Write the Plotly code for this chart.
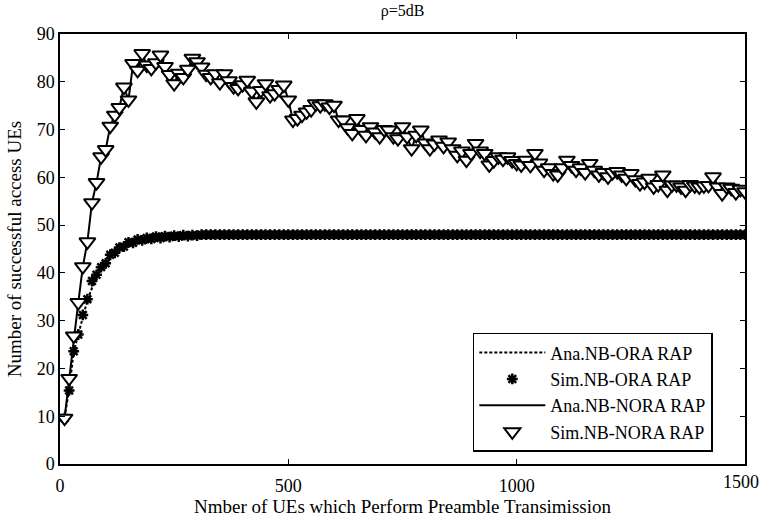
import plotly.graph_objects as go

# x positions: number of UEs performing preamble transmission
ues = list(range(10, 1501, 10))

# Simulated NB-NORA RAP (triangles); analytical line follows the same values
sim_nora = [
    9.6, 17.9, 26.8, 33.8, 41.3, 46.5, 54.7, 58.9, 64.3, 65.8,
    70.7, 73.0, 74.6, 78.9, 76.2, 83.8, 82.4, 85.9, 83.5, 82.8,
    84.0, 85.6, 83.2, 81.5, 79.6, 81.8, 80.9, 82.6, 84.9, 84.2,
    83.1, 81.6, 80.9, 81.7, 79.8, 81.7, 80.2, 79.0, 78.6, 79.4,
    80.3, 78.0, 75.8, 78.2, 79.6, 77.1, 77.5, 78.4, 79.3, 76.2,
    72.0, 72.3, 73.0, 73.7, 74.2, 75.4, 75.0, 75.4, 74.7, 75.1,
    72.0, 72.0, 70.4, 69.2, 72.3, 70.0, 68.8, 70.6, 69.5, 68.5,
    70.0, 69.9, 68.5, 68.1, 70.6, 68.5, 66.0, 68.8, 69.9, 67.2,
    66.0, 67.0, 67.8, 66.5, 67.4, 66.0, 64.6, 65.5, 63.6, 65.0,
    67.1, 65.5, 65.0, 62.6, 63.5, 64.3, 63.8, 64.3, 63.5, 62.9,
    62.6, 63.6, 62.5, 65.0, 63.0, 61.5, 62.0, 60.8, 60.5, 62.0,
    63.6, 62.5, 61.5, 62.0, 61.0, 62.9, 61.5, 60.5, 61.0, 60.1,
    61.0, 61.2, 60.5, 59.8, 60.8, 59.5, 58.7, 59.0, 59.8, 58.0,
    58.5, 60.5, 57.3, 58.4, 58.4, 58.0, 57.3, 58.5, 58.2, 58.0,
    58.2, 58.3, 60.1, 58.0, 56.6, 58.0, 57.7, 56.8, 57.5, 57.0,
]
ana_nora = sim_nora

# Analytical NB-ORA RAP (dotted line)
ana_ora_head = [
    9.8, 15.5, 23.5, 27.3, 31.0, 34.3, 36.8, 39.0, 40.9, 42.3,
    43.5, 44.4, 45.1, 45.7, 46.2, 46.5, 46.8, 47.0, 47.2, 47.3,
    47.4, 47.5, 47.6, 47.6, 47.7, 47.7, 47.8, 47.8, 47.8, 47.9,
]
ana_ora = ana_ora_head + [48.0] * (len(ues) - len(ana_ora_head))

# Simulated NB-ORA RAP (asterisks)
sim_ora_head = [
    9.6, 15.4, 23.6, 27.1, 31.2, 34.5, 38.3, 39.6, 41.2, 42.0,
    43.8, 44.2, 45.3, 45.5, 46.4, 46.3, 47.0, 46.8, 47.3, 47.1,
    47.6, 47.3, 47.7, 47.5, 47.8, 47.6, 47.9, 47.7, 47.9, 47.8,
]
sim_ora = sim_ora_head + [48.0] * (len(ues) - len(sim_ora_head))

# tick labels
x_ticks = [0, 500, 1000, 1500]
x_ticklabels = ["0", "500", "1000", ""]   # last label drawn as annotation (near page edge)
last_x_label = "1500"
y_ticks = list(range(0, 91, 10))

FONT = "Liberation Serif, Times New Roman, serif"

fig = go.Figure()
fig.add_trace(go.Scatter(
    x=ues, y=ana_ora, mode="lines", name="Ana.NB-ORA RAP",
    line=dict(color="black", width=2, dash="3px,2px"),
))
fig.add_trace(go.Scatter(
    x=ues, y=sim_ora, mode="markers", name="Sim.NB-ORA RAP",
    marker=dict(symbol="asterisk-open", size=9, color="black",
                line=dict(color="black", width=2.5)),
))
fig.add_trace(go.Scatter(
    x=ues, y=ana_nora, mode="lines", name="Ana.NB-NORA RAP",
    line=dict(color="black", width=2),
))
fig.add_trace(go.Scatter(
    x=ues, y=sim_nora, mode="markers", name="Sim.NB-NORA RAP",
    marker=dict(symbol="triangle-down", size=14, color="white",
                line=dict(color="black", width=2)),
))

axis_common = dict(
    showgrid=False, zeroline=False, showline=True, linecolor="black",
    linewidth=1.5, mirror="ticks", ticks="inside", ticklen=5, tickwidth=1,
    tickcolor="black", tickfont=dict(family=FONT, size=18, color="black"),
    automargin=False,
)

fig.update_layout(
    width=761, height=518,
    paper_bgcolor="white", plot_bgcolor="white",
    margin=dict(l=60, r=16, t=34, b=54),
    font=dict(family=FONT, color="black"),
    title=dict(text="ρ=5dB", x=0.529, xanchor="center", y=0.99, yanchor="top",
               yref="container", font=dict(family=FONT, size=16, color="black")),
    xaxis=dict(range=[0, 1500], tickvals=x_ticks, ticktext=x_ticklabels,
               ticklabelstandoff=5,
               title=dict(text="Nmber of UEs which Perform Preamble Transimission",
                          font=dict(family=FONT, size=19, color="black"), standoff=0),
               **axis_common),
    yaxis=dict(range=[0, 90], tickvals=y_ticks,
               title=dict(text="Number of successful access UEs",
                          font=dict(family=FONT, size=19, color="black"), standoff=10),
               **axis_common),
    legend=dict(x=0.953, y=0.305, xanchor="right", yanchor="top",
                bgcolor="white", bordercolor="black", borderwidth=1.5,
                font=dict(family=FONT, size=18, color="black"),
                itemwidth=66, tracegroupgap=0),
    showlegend=True,
)
fig.add_annotation(x=x_ticks[-1], y=0, xref="x", yref="paper", text=last_x_label,
                   showarrow=False, xanchor="right", yanchor="top", yshift=-6, xshift=16,
                   font=dict(family=FONT, size=18, color="black"))

fig.write_html("out.html")
